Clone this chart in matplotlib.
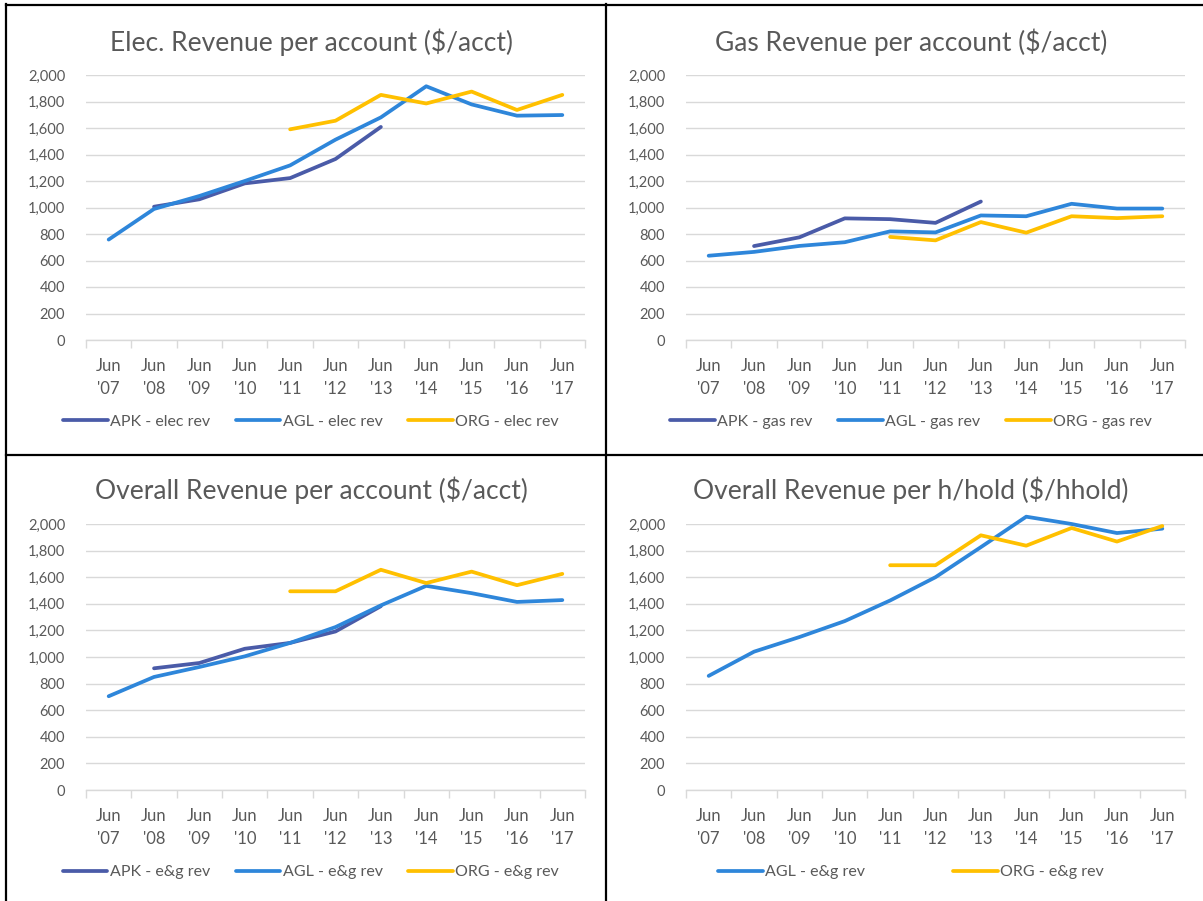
import numpy as np
import matplotlib
matplotlib.use("Agg")
import matplotlib.pyplot as plt
from matplotlib.lines import Line2D

plt.rcParams['font.family'] = ['Lato', 'DejaVu Sans']

nan = np.nan

# categories
years = ["'07", "'08", "'09", "'10", "'11", "'12", "'13", "'14", "'15", "'16", "'17"]
xlabels = ["Jun\n" + y for y in years]

# Elec revenue per account
apk_elec = [nan, 1006, 1062, 1182, 1222, 1366, 1608, nan, nan, nan, nan]
agl_elec = [758, 989, 1087, 1200, 1318, 1512, 1680, 1915, 1778, 1693, 1698]
org_elec = [nan, nan, nan, nan, 1590, 1655, 1850, 1785, 1875, 1736, 1850]

# Gas revenue per account
apk_gas = [nan, 709, 775, 918, 912, 884, 1045, nan, nan, nan, nan]
agl_gas = [636, 665, 710, 738, 820, 812, 940, 934, 1028, 992, 992]
org_gas = [nan, nan, nan, nan, 778, 752, 890, 810, 934, 920, 934]

# Overall revenue per account
apk_eg = [nan, 915, 955, 1062, 1106, 1192, 1382, nan, nan, nan, nan]
agl_eg = [705, 850, 925, 1005, 1106, 1225, 1388, 1535, 1480, 1414, 1428]
org_eg = [nan, nan, nan, nan, 1494, 1494, 1656, 1556, 1642, 1540, 1625]

# Overall revenue per household
agl_hh = [858, 1040, 1150, 1270, 1425, 1600, 1826, 2055, 2000, 1932, 1965]
org_hh = [nan, nan, nan, nan, 1690, 1690, 1915, 1837, 1970, 1868, 1985]

c_apk = '#4A5BA8'
c_agl = '#2E86DA'
c_org = '#FFC000'
grey = '#595959'
light = '#D9D9D9'

W, H = 1203, 901
fig = plt.figure(figsize=(W / 100, H / 100), dpi=100)


def make_axes(left, top, right, bottom):
    return fig.add_axes([left / W, (H - bottom) / H, (right - left) / W, (bottom - top) / H])


def style(ax, title, title_x, title_y, series, colspace, leg_y):
    x = np.arange(len(years))
    for vals, col, lab in series:
        ax.plot(x, vals, color=col, lw=2.7, label=lab, clip_on=False,
                solid_capstyle='round', solid_joinstyle='round')
    ax.set_xlim(-0.5, len(years) - 0.5)
    ax.set_ylim(0, 2000)
    ax.set_yticks(np.arange(0, 2001, 200))
    ax.set_yticklabels([f'{v:,}' for v in range(0, 2001, 200)])
    ax.set_xticks(x)
    ax.set_xticklabels(xlabels, linespacing=1.55)
    ax.set_xticks(np.arange(-0.5, len(years)), minor=True)
    ax.tick_params(axis='x', which='major', length=0, pad=13, labelsize=12, labelcolor=grey)
    ax.tick_params(axis='x', which='minor', length=6, color=light, width=1)
    ax.tick_params(axis='y', length=0, pad=15, labelsize=10.5, labelcolor=grey)
    for s in ['top', 'left', 'right']:
        ax.spines[s].set_visible(False)
    ax.spines['bottom'].set_color(light)
    ax.spines['bottom'].set_linewidth(1)
    ax.grid(axis='y', color=light, lw=1)
    ax.set_axisbelow(True)
    fig.text(title_x / W, (H - title_y) / H, title, ha='center', va='center',
             fontsize=19, color=grey)
    leg = ax.legend(loc='center', bbox_to_anchor=(title_x / W, (H - leg_y) / H),
                    bbox_transform=fig.transFigure, ncol=len(series), frameon=False,
                    fontsize=11.5, handlelength=2.8, handletextpad=0.15,
                    columnspacing=colspace)
    for t in leg.get_texts():
        t.set_color(grey)


ax1 = make_axes(86, 75, 585, 340)
style(ax1, 'Elec. Revenue per account ($/acct)', 311, 42,
      [(apk_elec, c_apk, 'APK - elec rev'), (agl_elec, c_agl, 'AGL - elec rev'),
       (org_elec, c_org, 'ORG - elec rev')], 1.6, 422)

ax2 = make_axes(686, 75, 1185, 340)
style(ax2, 'Gas Revenue per account ($/acct)', 911, 42,
      [(apk_gas, c_apk, 'APK - gas rev'), (agl_gas, c_agl, 'AGL - gas rev'),
       (org_gas, c_org, 'ORG - gas rev')], 1.6, 422)

ax3 = make_axes(86, 524, 585, 790)
style(ax3, 'Overall Revenue per account ($/acct)', 311, 490,
      [(apk_eg, c_apk, 'APK - e&g rev'), (agl_eg, c_agl, 'AGL - e&g rev'),
       (org_eg, c_org, 'ORG - e&g rev')], 1.6, 872)

ax4 = make_axes(686, 524, 1185, 790)
style(ax4, 'Overall Revenue per h/hold ($/hhold)', 911, 490,
      [(agl_hh, c_agl, 'AGL - e&g rev'), (org_hh, c_org, 'ORG - e&g rev')], 5.5, 872)

# black frame lines between panels
def fline(x0, y0, x1, y1):
    fig.add_artist(Line2D([x0 / W, x1 / W], [(H - y0) / H, (H - y1) / H],
                          transform=fig.transFigure, color='black', lw=1.6))

fline(6, 5, W, 5)
fline(6, 455, W, 455)
fline(6, 4, 6, H)
fline(606, 4, 606, H)

fig.savefig('out.png', dpi=100, facecolor='white')
